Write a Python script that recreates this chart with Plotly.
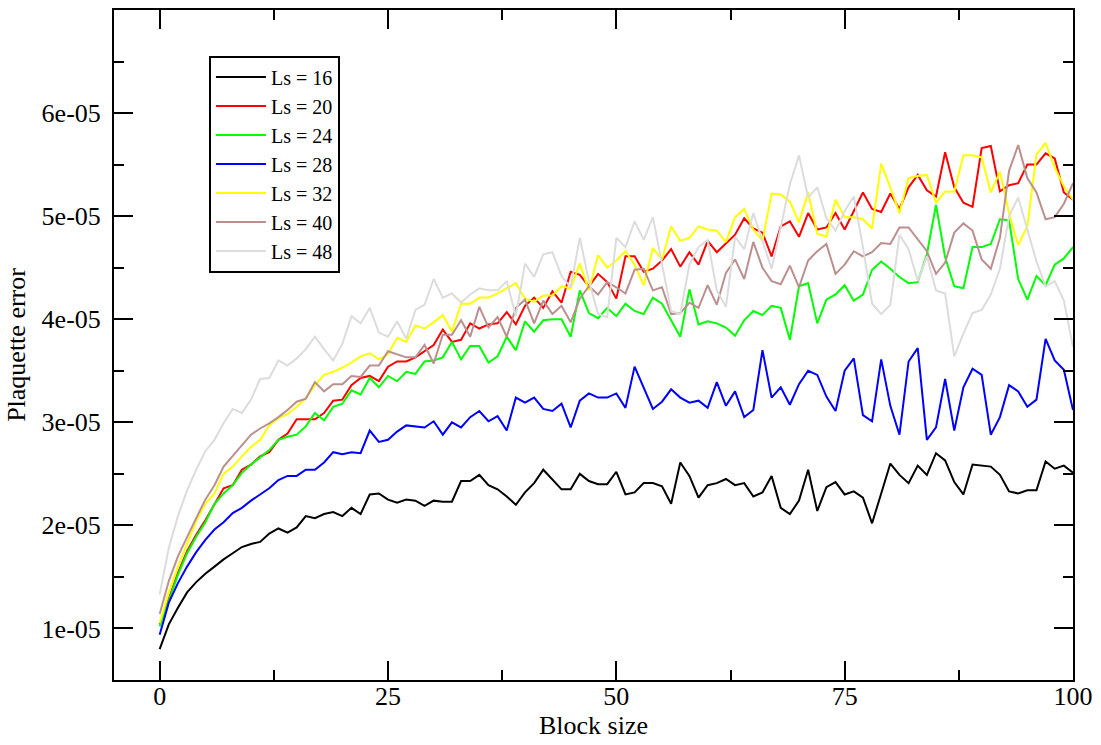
import plotly.graph_objects as go

block_size = list(range(0, 101))

ls16 = [0.80e-5, 1.04e-5, 1.20e-5, 1.35e-5, 1.45e-5, 1.53e-5, 1.60e-5, 1.67e-5, 1.73e-5, 1.79e-5,
        1.82e-5, 1.84e-5, 1.92e-5, 1.97e-5, 1.93e-5, 1.98e-5, 2.09e-5, 2.07e-5, 2.11e-5, 2.13e-5,
        2.09e-5, 2.17e-5, 2.11e-5, 2.30e-5, 2.31e-5, 2.25e-5, 2.22e-5, 2.25e-5, 2.24e-5, 2.19e-5,
        2.24e-5, 2.23e-5, 2.23e-5, 2.43e-5, 2.43e-5, 2.49e-5, 2.39e-5, 2.35e-5, 2.28e-5, 2.20e-5,
        2.32e-5, 2.41e-5, 2.54e-5, 2.44e-5, 2.35e-5, 2.35e-5, 2.50e-5, 2.43e-5, 2.40e-5, 2.40e-5,
        2.52e-5, 2.30e-5, 2.32e-5, 2.41e-5, 2.41e-5, 2.38e-5, 2.21e-5, 2.61e-5, 2.48e-5, 2.27e-5,
        2.39e-5, 2.41e-5, 2.45e-5, 2.39e-5, 2.41e-5, 2.28e-5, 2.32e-5, 2.48e-5, 2.17e-5, 2.11e-5,
        2.24e-5, 2.54e-5, 2.14e-5, 2.37e-5, 2.42e-5, 2.30e-5, 2.33e-5, 2.27e-5, 2.02e-5, 2.31e-5,
        2.60e-5, 2.49e-5, 2.41e-5, 2.58e-5, 2.49e-5, 2.70e-5, 2.63e-5, 2.42e-5, 2.30e-5, 2.59e-5,
        2.58e-5, 2.57e-5, 2.49e-5, 2.33e-5, 2.31e-5, 2.34e-5, 2.34e-5, 2.62e-5, 2.55e-5, 2.58e-5,
        2.51e-5]

ls20 = [1.04e-5, 1.28e-5, 1.54e-5, 1.75e-5, 1.91e-5, 2.05e-5, 2.20e-5, 2.36e-5, 2.39e-5, 2.54e-5,
        2.59e-5, 2.67e-5, 2.71e-5, 2.83e-5, 2.89e-5, 3.03e-5, 3.03e-5, 3.03e-5, 3.09e-5, 3.21e-5,
        3.22e-5, 3.36e-5, 3.43e-5, 3.45e-5, 3.40e-5, 3.54e-5, 3.59e-5, 3.59e-5, 3.63e-5, 3.69e-5,
        3.75e-5, 3.90e-5, 3.78e-5, 3.80e-5, 3.96e-5, 3.91e-5, 3.95e-5, 3.96e-5, 4.07e-5, 3.95e-5,
        4.13e-5, 4.21e-5, 4.11e-5, 4.27e-5, 4.16e-5, 4.46e-5, 4.43e-5, 4.32e-5, 4.44e-5, 4.36e-5,
        4.20e-5, 4.61e-5, 4.61e-5, 4.46e-5, 4.49e-5, 4.57e-5, 4.68e-5, 4.51e-5, 4.65e-5, 4.53e-5,
        4.76e-5, 4.65e-5, 4.74e-5, 4.82e-5, 4.98e-5, 4.88e-5, 4.84e-5, 4.61e-5, 4.90e-5, 4.95e-5,
        4.80e-5, 5.03e-5, 4.87e-5, 4.89e-5, 5.03e-5, 4.87e-5, 5.05e-5, 5.23e-5, 5.07e-5, 5.04e-5,
        5.22e-5, 5.07e-5, 5.28e-5, 5.40e-5, 5.25e-5, 5.19e-5, 5.62e-5, 5.28e-5, 5.13e-5, 5.09e-5,
        5.66e-5, 5.68e-5, 5.24e-5, 5.30e-5, 5.32e-5, 5.50e-5, 5.50e-5, 5.61e-5, 5.56e-5, 5.23e-5,
        5.16e-5]

ls24 = [1.02e-5, 1.26e-5, 1.52e-5, 1.73e-5, 1.89e-5, 2.03e-5, 2.21e-5, 2.31e-5, 2.39e-5, 2.51e-5,
        2.59e-5, 2.66e-5, 2.73e-5, 2.83e-5, 2.86e-5, 2.88e-5, 2.96e-5, 3.09e-5, 3.02e-5, 3.15e-5,
        3.18e-5, 3.31e-5, 3.27e-5, 3.43e-5, 3.34e-5, 3.45e-5, 3.40e-5, 3.49e-5, 3.47e-5, 3.59e-5,
        3.60e-5, 3.63e-5, 3.78e-5, 3.61e-5, 3.74e-5, 3.74e-5, 3.58e-5, 3.64e-5, 3.83e-5, 3.70e-5,
        3.98e-5, 3.88e-5, 3.99e-5, 4.00e-5, 4.00e-5, 3.83e-5, 4.28e-5, 4.06e-5, 4.01e-5, 4.11e-5,
        4.03e-5, 4.15e-5, 4.08e-5, 4.05e-5, 4.21e-5, 4.15e-5, 3.99e-5, 3.83e-5, 4.29e-5, 3.95e-5,
        3.98e-5, 3.96e-5, 3.92e-5, 3.84e-5, 3.99e-5, 4.08e-5, 4.04e-5, 4.13e-5, 4.11e-5, 3.80e-5,
        4.32e-5, 4.35e-5, 3.96e-5, 4.19e-5, 4.24e-5, 4.33e-5, 4.18e-5, 4.24e-5, 4.48e-5, 4.56e-5,
        4.49e-5, 4.41e-5, 4.35e-5, 4.36e-5, 4.63e-5, 5.11e-5, 4.60e-5, 4.32e-5, 4.30e-5, 4.70e-5,
        4.70e-5, 4.73e-5, 4.97e-5, 4.96e-5, 4.39e-5, 4.19e-5, 4.42e-5, 4.33e-5, 4.53e-5, 4.59e-5,
        4.70e-5]

ls28 = [0.94e-5, 1.25e-5, 1.44e-5, 1.60e-5, 1.74e-5, 1.86e-5, 1.96e-5, 2.03e-5, 2.12e-5, 2.17e-5,
        2.24e-5, 2.30e-5, 2.36e-5, 2.44e-5, 2.48e-5, 2.48e-5, 2.54e-5, 2.54e-5, 2.61e-5, 2.71e-5,
        2.69e-5, 2.71e-5, 2.70e-5, 2.92e-5, 2.81e-5, 2.83e-5, 2.91e-5, 2.97e-5, 2.96e-5, 2.95e-5,
        3.01e-5, 2.88e-5, 3.00e-5, 2.95e-5, 3.05e-5, 3.11e-5, 3.01e-5, 3.06e-5, 2.92e-5, 3.24e-5,
        3.19e-5, 3.24e-5, 3.13e-5, 3.11e-5, 3.18e-5, 2.95e-5, 3.21e-5, 3.28e-5, 3.24e-5, 3.24e-5,
        3.28e-5, 3.14e-5, 3.54e-5, 3.34e-5, 3.13e-5, 3.20e-5, 3.32e-5, 3.24e-5, 3.19e-5, 3.21e-5,
        3.14e-5, 3.39e-5, 3.16e-5, 3.30e-5, 3.05e-5, 3.12e-5, 3.70e-5, 3.24e-5, 3.34e-5, 3.17e-5,
        3.37e-5, 3.50e-5, 3.46e-5, 3.25e-5, 3.11e-5, 3.50e-5, 3.62e-5, 3.07e-5, 3.01e-5, 3.61e-5,
        3.16e-5, 2.88e-5, 3.59e-5, 3.72e-5, 2.83e-5, 2.95e-5, 3.42e-5, 2.92e-5, 3.34e-5, 3.52e-5,
        3.46e-5, 2.88e-5, 3.05e-5, 3.36e-5, 3.30e-5, 3.15e-5, 3.22e-5, 3.81e-5, 3.60e-5, 3.51e-5,
        3.12e-5]

ls32 = [1.05e-5, 1.35e-5, 1.60e-5, 1.83e-5, 2.04e-5, 2.21e-5, 2.31e-5, 2.50e-5, 2.57e-5, 2.67e-5,
        2.76e-5, 2.83e-5, 2.97e-5, 3.04e-5, 3.08e-5, 3.15e-5, 3.23e-5, 3.36e-5, 3.46e-5, 3.49e-5,
        3.53e-5, 3.58e-5, 3.64e-5, 3.67e-5, 3.61e-5, 3.66e-5, 3.82e-5, 3.78e-5, 3.94e-5, 3.91e-5,
        3.97e-5, 4.04e-5, 3.88e-5, 4.15e-5, 4.15e-5, 4.21e-5, 4.21e-5, 4.25e-5, 4.30e-5, 4.35e-5,
        4.20e-5, 4.17e-5, 4.23e-5, 4.23e-5, 4.32e-5, 4.30e-5, 4.54e-5, 4.28e-5, 4.62e-5, 4.50e-5,
        4.57e-5, 4.66e-5, 4.53e-5, 4.33e-5, 4.69e-5, 4.58e-5, 4.90e-5, 4.76e-5, 4.79e-5, 4.90e-5,
        4.87e-5, 4.86e-5, 4.75e-5, 4.99e-5, 5.07e-5, 4.87e-5, 4.76e-5, 5.22e-5, 5.21e-5, 5.14e-5,
        4.94e-5, 5.23e-5, 4.83e-5, 4.80e-5, 5.16e-5, 4.99e-5, 4.99e-5, 4.97e-5, 4.88e-5, 5.51e-5,
        5.28e-5, 5.03e-5, 5.37e-5, 5.39e-5, 5.40e-5, 5.13e-5, 5.24e-5, 5.24e-5, 5.59e-5, 5.59e-5,
        5.57e-5, 5.23e-5, 5.43e-5, 5.03e-5, 4.72e-5, 4.90e-5, 5.60e-5, 5.71e-5, 5.47e-5, 5.29e-5,
        5.16e-5]

ls40 = [1.14e-5, 1.46e-5, 1.70e-5, 1.89e-5, 2.07e-5, 2.25e-5, 2.39e-5, 2.57e-5, 2.67e-5, 2.78e-5,
        2.88e-5, 2.94e-5, 2.99e-5, 3.05e-5, 3.12e-5, 3.20e-5, 3.23e-5, 3.39e-5, 3.30e-5, 3.37e-5,
        3.37e-5, 3.45e-5, 3.44e-5, 3.55e-5, 3.55e-5, 3.69e-5, 3.66e-5, 3.63e-5, 3.63e-5, 3.75e-5,
        3.57e-5, 3.85e-5, 3.85e-5, 3.99e-5, 3.83e-5, 4.12e-5, 3.92e-5, 4.02e-5, 3.83e-5, 4.11e-5,
        4.19e-5, 3.96e-5, 4.18e-5, 4.05e-5, 4.13e-5, 3.97e-5, 4.20e-5, 4.32e-5, 4.24e-5, 4.36e-5,
        4.31e-5, 4.25e-5, 4.48e-5, 4.49e-5, 4.28e-5, 4.31e-5, 4.05e-5, 4.06e-5, 4.16e-5, 4.11e-5,
        4.33e-5, 4.14e-5, 4.45e-5, 4.58e-5, 4.39e-5, 4.75e-5, 4.50e-5, 4.37e-5, 4.34e-5, 4.52e-5,
        4.31e-5, 4.57e-5, 4.66e-5, 4.73e-5, 4.44e-5, 4.53e-5, 4.66e-5, 4.61e-5, 4.65e-5, 4.74e-5,
        4.73e-5, 4.89e-5, 4.89e-5, 4.77e-5, 4.66e-5, 4.44e-5, 4.55e-5, 4.84e-5, 4.93e-5, 4.86e-5,
        4.58e-5, 4.49e-5, 4.79e-5, 5.44e-5, 5.69e-5, 5.37e-5, 5.23e-5, 4.97e-5, 4.99e-5, 5.12e-5,
        5.32e-5]

ls48 = [1.33e-5, 1.78e-5, 2.09e-5, 2.34e-5, 2.54e-5, 2.72e-5, 2.83e-5, 2.99e-5, 3.13e-5, 3.09e-5,
        3.22e-5, 3.42e-5, 3.43e-5, 3.60e-5, 3.55e-5, 3.62e-5, 3.71e-5, 3.83e-5, 3.71e-5, 3.60e-5,
        3.76e-5, 4.03e-5, 3.96e-5, 4.11e-5, 3.87e-5, 3.83e-5, 3.98e-5, 3.81e-5, 4.09e-5, 4.14e-5,
        4.39e-5, 4.21e-5, 4.25e-5, 4.16e-5, 4.24e-5, 4.30e-5, 4.28e-5, 4.28e-5, 4.37e-5, 4.03e-5,
        4.54e-5, 4.41e-5, 4.63e-5, 4.65e-5, 4.42e-5, 4.31e-5, 4.79e-5, 4.37e-5, 4.05e-5, 4.02e-5,
        4.79e-5, 4.70e-5, 4.95e-5, 4.77e-5, 4.99e-5, 4.53e-5, 4.08e-5, 4.05e-5, 4.53e-5, 4.70e-5,
        4.77e-5, 4.28e-5, 4.12e-5, 4.80e-5, 4.68e-5, 5.03e-5, 4.76e-5, 4.49e-5, 4.89e-5, 5.31e-5,
        5.59e-5, 5.18e-5, 5.28e-5, 4.98e-5, 4.86e-5, 5.05e-5, 5.19e-5, 4.70e-5, 4.15e-5, 4.05e-5,
        4.14e-5, 4.82e-5, 4.68e-5, 4.37e-5, 4.61e-5, 4.28e-5, 4.25e-5, 3.64e-5, 3.86e-5, 4.06e-5,
        4.09e-5, 4.24e-5, 4.49e-5, 5.00e-5, 5.18e-5, 4.87e-5, 4.56e-5, 4.32e-5, 4.37e-5, 4.18e-5,
        3.73e-5]

series_names = ["Ls = 16", "Ls = 20", "Ls = 24", "Ls = 28", "Ls = 32", "Ls = 40", "Ls = 48"]
series_values = [ls16, ls20, ls24, ls28, ls32, ls40, ls48]
series_colors = ["#000000", "#ff0000", "#00ff00", "#0000ff", "#ffff00", "#bc8f8f", "#dcdcdc"]

y_tick_vals = [1e-5, 2e-5, 3e-5, 4e-5, 5e-5, 6e-5]
y_tick_text = ["1e-05", "2e-05", "3e-05", "4e-05", "5e-05", "6e-05"]
x_tick_vals = [0, 25, 50, 75, 100]

FONT = "Liberation Serif, Times New Roman, serif"

fig = go.Figure()
for name, vals, col in zip(series_names, series_values, series_colors):
    fig.add_trace(go.Scatter(x=block_size, y=vals, mode="lines", name=name,
                             line=dict(color=col, width=2)))

axis_common = dict(
    showline=True, linecolor="black", linewidth=2, mirror="ticks",
    ticks="inside", ticklen=19, tickwidth=2, tickcolor="black",
    showgrid=False, zeroline=False,
    tickfont=dict(family=FONT, size=26, color="black"),
)

fig.update_xaxes(
    range=[-5, 100], tickmode="array", tickvals=x_tick_vals,
    minor=dict(ticks="inside", ticklen=10, tickwidth=2, tickcolor="black",
               tickmode="linear", tick0=0, dtick=12.5, showgrid=False),
    title=dict(text="Block size", font=dict(family=FONT, size=26, color="black"), standoff=2),
    ticklabelstandoff=-8,
    **axis_common,
)
fig.update_yaxes(
    range=[5e-6, 7e-5], tickmode="array", tickvals=y_tick_vals, ticktext=y_tick_text,
    minor=dict(ticks="inside", ticklen=10, tickwidth=2, tickcolor="black",
               tickmode="linear", tick0=0, dtick=5e-6, showgrid=False),
    title=dict(text="Plaquette error", font=dict(family=FONT, size=26, color="black"), standoff=8),
    ticklabelstandoff=6,
    **axis_common,
)

fig.update_layout(
    width=1101, height=745,
    margin=dict(l=114, r=28, t=10, b=65, autoexpand=False),
    paper_bgcolor="white", plot_bgcolor="white",
    font=dict(family=FONT, size=26, color="black"),
    legend=dict(
        x=0.099, y=0.932, xanchor="left", yanchor="top",
        bgcolor="white", bordercolor="black", borderwidth=2,
        font=dict(family=FONT, size=20, color="black"),
        tracegroupgap=0, itemwidth=50,
    ),
    showlegend=True,
)

fig.write_html("out.html", config={"displayModeBar": False},
               post_script="document.body.style.margin='0px';document.body.style.overflow='hidden';")
